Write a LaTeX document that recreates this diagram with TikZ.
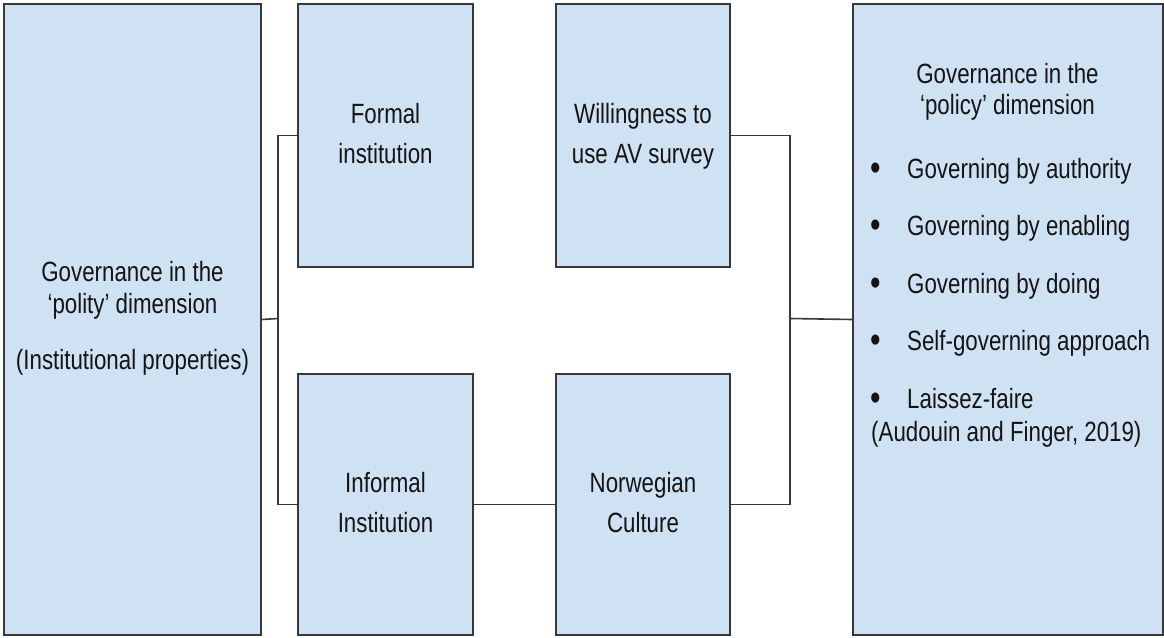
\documentclass[tikz,border=0pt]{standalone}
\usepackage{fontspec}
\usepackage{graphicx}
\setmainfont{Liberation Sans}
\definecolor{boxfill}{HTML}{CFE2F3}
\definecolor{edgecol}{HTML}{383838}
\definecolor{txtcol}{HTML}{141414}
\newcommand{\vtext}[2]{\scalebox{1}[1.25]{\fontsize{22.3}{#1}\selectfont\begin{tabular}{@{}c@{}}#2\end{tabular}}}
\newcommand{\vrow}[1]{\scalebox{1}[1.25]{\fontsize{22.3}{26}\selectfont #1}}
\newcommand{\vdot}{\scalebox{1}[1.25]{\fontsize{30}{30}\selectfont •}}
\begin{document}
\begin{tikzpicture}[x=1pt,y=-1pt,
  box/.style={draw=edgecol, line width=2pt, fill=boxfill, inner sep=0pt, anchor=north west, text=txtcol},
  link/.style={draw=edgecol, line width=1.6pt},
  ptext/.style={inner sep=0pt, text=txtcol}]
\useasboundingbox (0,0) rectangle (1164,637);
% boxes
\node[box, minimum width=257pt, minimum height=631pt] (polity) at (3,3)
  {\raisebox{6pt}{\vtext{25.6}{Governance in the\\`polity' dimension\\[19.2pt](Institutional properties)}}};
\node[box, minimum width=175pt, minimum height=263pt] (formal) at (297,3)
  {\vtext{32}{Formal\\institution}};
\node[box, minimum width=175pt, minimum height=261pt] (informal) at (297,373)
  {\raisebox{5pt}{\vtext{32}{Informal\\Institution}}};
\node[box, minimum width=174pt, minimum height=263pt] (willing) at (555,3)
  {\vtext{32}{Willingness to\\use AV survey}};
\node[box, minimum width=174pt, minimum height=261pt] (norw) at (555,373)
  {\raisebox{5pt}{\vtext{32}{Norwegian\\Culture}}};
\node[box, minimum width=310pt, minimum height=631pt] (policy) at (852,3) {};
% policy text
\node[ptext] (ptitle) at (1007.5,93) {\vtext{24.8}{Governance in the\\`policy' dimension}};
\node[ptext, anchor=base west] (b1) at (870,180) {\vdot};
\node[ptext, anchor=base west] (t1) at (907,178) {\vrow{Governing by authority}};
\node[ptext, anchor=base west] (b2) at (870,237) {\vdot};
\node[ptext, anchor=base west] (t2) at (907,235) {\vrow{Governing by enabling}};
\node[ptext, anchor=base west] (b3) at (870,295) {\vdot};
\node[ptext, anchor=base west] (t3) at (907,293) {\vrow{Governing by doing}};
\node[ptext, anchor=base west] (b4) at (870,352) {\vdot};
\node[ptext, anchor=base west] (t4) at (907,350) {\vrow{Self-governing approach}};
\node[ptext, anchor=base west] (b5) at (870,410) {\vdot};
\node[ptext, anchor=base west] (t5) at (907,408) {\vrow{Laissez-faire}};
\node[ptext, anchor=base west] (cite) at (871,441) {\vrow{(Audouin and Finger, 2019)}};
% connectors
\coordinate (jl) at (278,318.5);
\coordinate (jr) at (790,318.5);
\draw[link] (polity.east) -- (jl);
\draw[link] (formal.west) -- (formal.west -| jl) -- (informal.west -| jl) -- (informal.west);
\draw[link] (informal.east) -- (norw.west);
\draw[link] (willing.east) -- (willing.east -| jr) -- (norw.east -| jr) -- (norw.east);
\draw[link] (jr) -- (policy.west);
\end{tikzpicture}
\end{document}
